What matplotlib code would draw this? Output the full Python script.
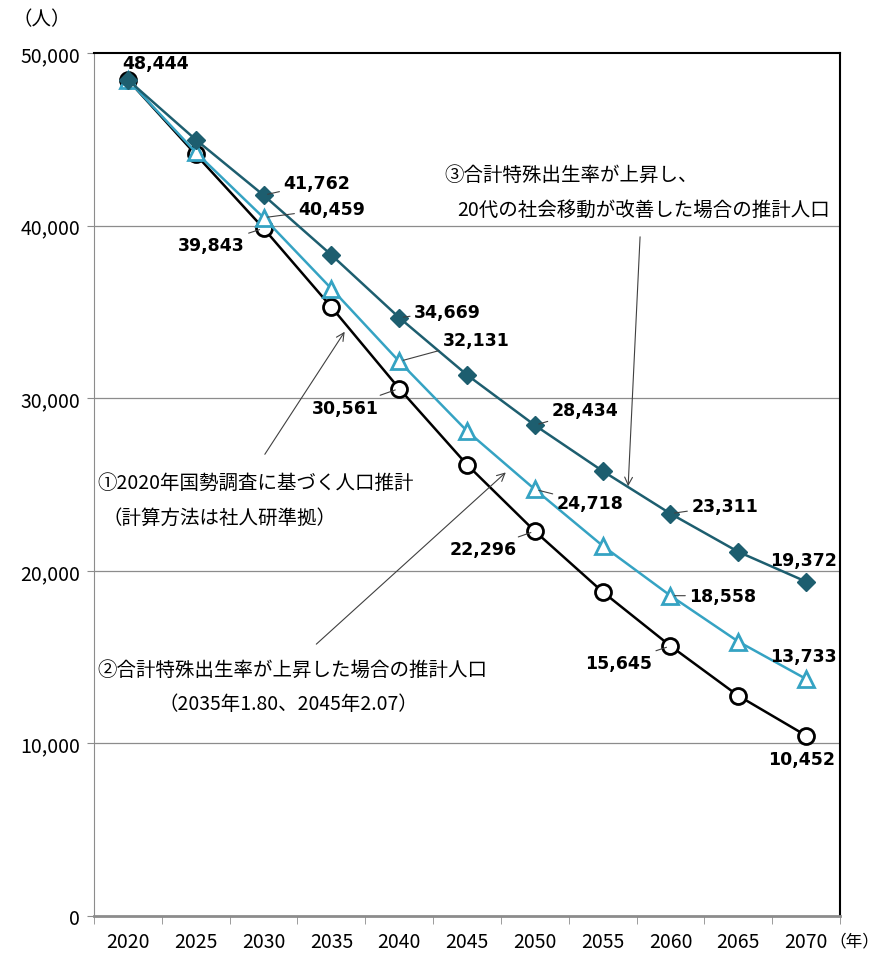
import matplotlib
matplotlib.use("Agg")
import matplotlib.pyplot as plt
import numpy as np

plt.rcParams['font.family'] = ['Noto Sans CJK JP', 'DejaVu Sans']

years = ['2020', '2025', '2030', '2035', '2040', '2045', '2050', '2055', '2060', '2065', '2070']
base = [48444, 44120, 39843, 35280, 30561, 26150, 22296, 18780, 15645, 12760, 10452]
birth_up = [48444, 44250, 40459, 36350, 32131, 28100, 24718, 21450, 18558, 15900, 13733]
birth_move = [48444, 44980, 41762, 38300, 34669, 31350, 28434, 25780, 23311, 21100, 19372]

BLACK = '#000000'
LIGHT = '#35A3C3'
DARK = '#1D5E6F'
GRID = '#8C8C8C'

fig = plt.figure(figsize=(8.79, 9.54), dpi=100)
ax = fig.add_axes([94 / 879, 37 / 954, 746 / 879, 863 / 954])

x = np.arange(len(years))
ax.plot(x, base, color=BLACK, lw=1.8, marker='o', ms=11.5, mfc='white', mec=BLACK, mew=2, zorder=3)
ax.plot(x, birth_up, color=LIGHT, lw=1.8, marker='^', ms=12, mfc='white', mec=LIGHT, mew=2, zorder=4)
ax.plot(x, birth_move, color=DARK, lw=1.8, marker='D', ms=9.5, mfc=DARK, mec=DARK, zorder=5)

ax.set_xlim(-0.5, len(years) - 0.5)
ax.set_ylim(0, 50000)
ax.set_yticks(np.arange(0, 50001, 10000))
ax.set_yticklabels([f'{v:,}' for v in range(0, 50001, 10000)], fontsize=14)
ax.set_xticks(x)
ax.set_xticklabels(years, fontsize=14)
ax.set_xticks(np.arange(-0.5, len(years)), minor=True)
ax.tick_params(axis='x', which='major', length=0, pad=11)
ax.tick_params(axis='x', which='minor', length=6, color=GRID)
ax.tick_params(axis='y', length=5, color=GRID, pad=5)
for v in range(10000, 50000, 10000):
    ax.axhline(v, color=GRID, lw=0.9, zorder=1)

ax.spines['left'].set_color(GRID)
ax.spines['bottom'].set_color(GRID)
ax.spines['bottom'].set_linewidth(2)
ax.spines['top'].set_color(BLACK)
ax.spines['top'].set_linewidth(1.5)
ax.spines['right'].set_color(BLACK)
ax.spines['right'].set_linewidth(1.5)

fig.text(42 / 879, 1 - 20 / 954, '（人）', fontsize=14, ha='center', va='center')
fig.text(879 / 879, 1 - 942 / 954, '（年）', fontsize=12, ha='right', va='center')

# value labels: (series, index, dx px, dy px, ha, leader)
labels = [
    (base, 0, 28, 17, 'center', False),
    (birth_move, 2, 20, 12, 'left', True),
    (birth_up, 2, 35, 9, 'left', True),
    (base, 2, -19, -17, 'right', True),
    (birth_move, 4, 15, 6, 'left', True),
    (birth_up, 4, 44, 21, 'left', True),
    (base, 4, -20, -19, 'right', True),
    (birth_move, 6, 17, 15, 'left', True),
    (birth_up, 6, 22, -14, 'left', True),
    (base, 6, -18, -18, 'right', True),
    (birth_move, 8, 21, 8, 'left', True),
    (birth_up, 8, 19, 0, 'left', True),
    (base, 8, -18, -17, 'right', True),
    (birth_move, 10, -3, 22, 'center', False),
    (birth_up, 10, -3, 23, 'center', False),
    (base, 10, -5, -23, 'center', False),
]
for series, i, dx, dy, ha, leader in labels:
    props = dict(arrowstyle='-', color='#404040', lw=0.8, shrinkA=1, shrinkB=3) if leader else None
    ax.annotate(f'{series[i]:,}', xy=(i, series[i]), xytext=(dx, dy), textcoords='offset pixels',
                ha=ha, va='center', fontsize=12.5, fontweight='bold', family='DejaVu Sans',
                arrowprops=props, zorder=6)

arrow = dict(arrowstyle='->', color='#404040', lw=0.8, mutation_scale=14, shrinkA=0, shrinkB=0)
ax.annotate('', xy=(0.336, 0.677), xytext=(0.229, 0.535), xycoords='axes fraction', arrowprops=arrow)
ax.annotate('', xy=(0.552, 0.514), xytext=(0.298, 0.315), xycoords='axes fraction', arrowprops=arrow)
ax.annotate('', xy=(0.716, 0.498), xytext=(0.732, 0.787), xycoords='axes fraction', arrowprops=arrow)

note = dict(transform=ax.transAxes, fontsize=14, ha='left', va='center')
ax.text(0.004, 0.502, '①2020年国勢調査に基づく人口推計', **note)
ax.text(0.012, 0.462, '（計算方法は社人研準拠）', **note)
ax.text(0.004, 0.286, '②合計特殊出生率が上昇した場合の推計人口', **note)
ax.text(0.086, 0.246, '（2035年1.80、2045年2.07）', **note)
ax.text(0.470, 0.859, '③合計特殊出生率が上昇し、', **note)
ax.text(0.487, 0.819, '20代の社会移動が改善した場合の推計人口', **note)

fig.savefig('out.png', dpi=100)
